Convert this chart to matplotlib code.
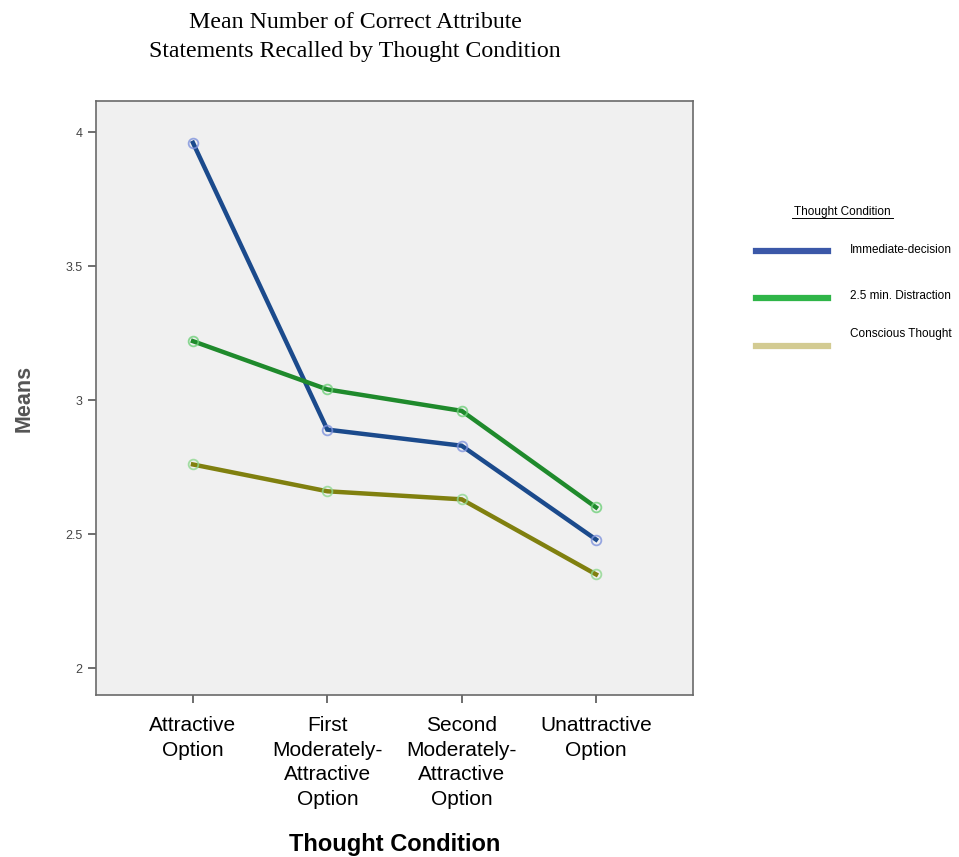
import matplotlib.pyplot as plt
from matplotlib.lines import Line2D

# data
options = ["Attractive\nOption", "First\nModerately-\nAttractive\nOption",
           "Second\nModerately-\nAttractive\nOption", "Unattractive\nOption"]
immediate = [3.96, 2.89, 2.83, 2.48]
distraction = [3.22, 3.04, 2.96, 2.60]
conscious = [2.76, 2.66, 2.63, 2.35]
series_names = ["Immediate-decision", "2.5 min. Distraction", "Conscious Thought"]
y_ticks = [2, 2.5, 3, 3.5, 4]

line_cols = ["#1b4a8c", "#1f8a2c", "#80800f"]
marker_cols = ["#7f93dc", "#6fd07a", "#8fd88f"]
legend_cols = ["#3b58a8", "#2fb548", "#d3cb92"]

fig = plt.figure(figsize=(9.59, 8.57), dpi=100)
W, H = 959, 857
ax = fig.add_axes([96 / W, 1 - 695 / H, (693 - 96) / W, (695 - 101) / H])
ax.set_facecolor("#f0f0f0")

x = list(range(len(options)))
for vals, lc, mc in zip([immediate, distraction, conscious], line_cols, marker_cols):
    ax.plot(x, vals, color=lc, lw=3.2, solid_joinstyle="miter", zorder=3)
    ax.plot(x, vals, ls="none", marker="o", ms=7, mfc="none", mec=mc, mew=1.3,
            alpha=0.8, zorder=4)

ax.set_xlim(-0.722, 3.722)
ax.set_ylim(1.9, 4.116)
ax.set_yticks(y_ticks)
ax.set_yticklabels(["2", "2.5", "3", "3.5", "4"], fontsize=9, color="#444444",
                   family="Liberation Sans")
ax.set_xticks(x)
ax.set_xticklabels(options, fontsize=15, family="Liberation Sans")
for t in ax.get_xticklabels():
    t.set_linespacing(1.38)
ax.tick_params(axis="both", direction="out", length=6, width=1.2, color="#555555")
ax.tick_params(axis="x", pad=9)
for s in ax.spines.values():
    s.set_color("#6a6a6a")
    s.set_linewidth(1.2)

ax.set_xlabel("Thought Condition", fontsize=17, fontweight="bold",
              family="Liberation Sans", labelpad=17)
ax.set_ylabel("Means", fontsize=15.5, fontweight="bold", color="#555555",
              family="Liberation Sans", labelpad=22)

fig.text(355 / W, 1 - 37 / H, "Mean Number of Correct Attribute\nStatements Recalled by Thought Condition",
         ha="center", va="center", fontsize=17.2, family="Liberation Serif", linespacing=1.5)

# legend drawn by hand
fig.text(842 / W, 1 - 212 / H, "Thought Condition", ha="center", va="center",
         fontsize=8.5, family="Liberation Sans")
fig.add_artist(Line2D([792 / W, 893 / W], [1 - 218 / H, 1 - 218 / H], color="black", lw=0.7))
line_y = [251, 298, 346]
text_y = [250, 296, 334]
for name, col, ly, ty in zip(series_names, legend_cols, line_y, text_y):
    fig.add_artist(Line2D([756 / W, 828 / W], [1 - ly / H, 1 - ly / H], color=col, lw=4.5))
    fig.text(850 / W, 1 - ty / H, name, ha="left", va="center", fontsize=8.5,
             family="Liberation Sans")

fig.savefig("out.png", dpi=100)
